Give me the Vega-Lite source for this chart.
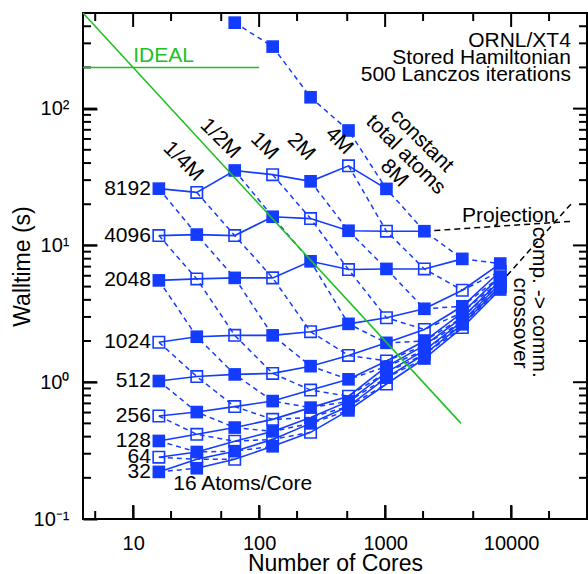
{
"$schema":"https://vega.github.io/schema/vega-lite/v6.json",
"width":504,"height":506,
"autosize":{"type":"none"},
"padding":{"left":83,"top":13,"right":1,"bottom":55},
"config":{"font":"Liberation Sans","view":{"stroke":"black","strokeWidth":2,"fill":"transparent"},
 "axis":{"labelFontSize":20,"labelColor":"black","labelFont":"Liberation Sans","titleFont":"Liberation Sans","titleFontSize":23,"titleFontWeight":"normal","titleColor":"black","tickColor":"black","tickWidth":2,"ticks":true,"domain":false,"grid":false,"labelOverlap":false,"labelFlush":false,"labelPadding":14}},
"datasets":{"pts":[
{"cores":16,"apc":8192,"time":26.0,"tot":17,"fill":"filled"},
{"cores":32,"apc":8192,"time":24.4,"tot":18,"fill":"open"},
{"cores":64,"apc":8192,"time":35.3,"tot":19,"fill":"filled"},
{"cores":128,"apc":8192,"time":32.9,"tot":20,"fill":"open"},
{"cores":256,"apc":8192,"time":29.4,"tot":21,"fill":"filled"},
{"cores":512,"apc":8192,"time":38.2,"tot":22,"fill":"open"},
{"cores":1024,"apc":8192,"time":25.9,"tot":23,"fill":"filled"},
{"cores":16,"apc":4096,"time":11.8,"tot":16,"fill":"open"},
{"cores":32,"apc":4096,"time":12.0,"tot":17,"fill":"filled"},
{"cores":64,"apc":4096,"time":11.8,"tot":18,"fill":"open"},
{"cores":128,"apc":4096,"time":16.2,"tot":19,"fill":"filled"},
{"cores":256,"apc":4096,"time":15.7,"tot":20,"fill":"open"},
{"cores":512,"apc":4096,"time":12.8,"tot":21,"fill":"filled"},
{"cores":1024,"apc":4096,"time":12.7,"tot":22,"fill":"open"},
{"cores":2048,"apc":4096,"time":12.7,"tot":23,"fill":"filled"},
{"cores":16,"apc":2048,"time":5.55,"tot":15,"fill":"filled"},
{"cores":32,"apc":2048,"time":5.69,"tot":16,"fill":"open"},
{"cores":64,"apc":2048,"time":5.79,"tot":17,"fill":"filled"},
{"cores":128,"apc":2048,"time":5.79,"tot":18,"fill":"open"},
{"cores":256,"apc":2048,"time":7.65,"tot":19,"fill":"filled"},
{"cores":512,"apc":2048,"time":6.66,"tot":20,"fill":"open"},
{"cores":1024,"apc":2048,"time":6.73,"tot":21,"fill":"filled"},
{"cores":2048,"apc":2048,"time":6.73,"tot":22,"fill":"open"},
{"cores":4096,"apc":2048,"time":7.97,"tot":23,"fill":"filled"},
{"cores":16,"apc":1024,"time":1.96,"tot":14,"fill":"open"},
{"cores":32,"apc":1024,"time":2.15,"tot":15,"fill":"filled"},
{"cores":64,"apc":1024,"time":2.20,"tot":16,"fill":"open"},
{"cores":128,"apc":1024,"time":2.20,"tot":17,"fill":"filled"},
{"cores":256,"apc":1024,"time":2.34,"tot":18,"fill":"open"},
{"cores":512,"apc":1024,"time":2.67,"tot":19,"fill":"filled"},
{"cores":1024,"apc":1024,"time":2.96,"tot":20,"fill":"open"},
{"cores":2048,"apc":1024,"time":3.44,"tot":21,"fill":"filled"},
{"cores":4096,"apc":1024,"time":4.70,"tot":22,"fill":"open"},
{"cores":8192,"apc":1024,"time":7.37,"tot":23,"fill":"filled"},
{"cores":16,"apc":512,"time":1.02,"tot":13,"fill":"filled"},
{"cores":32,"apc":512,"time":1.10,"tot":14,"fill":"open"},
{"cores":64,"apc":512,"time":1.14,"tot":15,"fill":"filled"},
{"cores":128,"apc":512,"time":1.16,"tot":16,"fill":"open"},
{"cores":256,"apc":512,"time":1.31,"tot":17,"fill":"filled"},
{"cores":512,"apc":512,"time":1.57,"tot":18,"fill":"open"},
{"cores":1024,"apc":512,"time":1.94,"tot":19,"fill":"filled"},
{"cores":2048,"apc":512,"time":2.43,"tot":20,"fill":"open"},
{"cores":4096,"apc":512,"time":3.59,"tot":21,"fill":"filled"},
{"cores":8192,"apc":512,"time":6.47,"tot":22,"fill":"open"},
{"cores":16,"apc":256,"time":0.566,"tot":12,"fill":"open"},
{"cores":32,"apc":256,"time":0.605,"tot":13,"fill":"filled"},
{"cores":64,"apc":256,"time":0.663,"tot":14,"fill":"open"},
{"cores":128,"apc":256,"time":0.728,"tot":15,"fill":"filled"},
{"cores":256,"apc":256,"time":0.876,"tot":16,"fill":"open"},
{"cores":512,"apc":256,"time":1.05,"tot":17,"fill":"filled"},
{"cores":1024,"apc":256,"time":1.43,"tot":18,"fill":"open"},
{"cores":2048,"apc":256,"time":2.0,"tot":19,"fill":"filled"},
{"cores":4096,"apc":256,"time":3.23,"tot":20,"fill":"open"},
{"cores":8192,"apc":256,"time":5.92,"tot":21,"fill":"filled"},
{"cores":16,"apc":128,"time":0.372,"tot":11,"fill":"filled"},
{"cores":32,"apc":128,"time":0.416,"tot":12,"fill":"open"},
{"cores":64,"apc":128,"time":0.466,"tot":13,"fill":"filled"},
{"cores":128,"apc":128,"time":0.535,"tot":14,"fill":"open"},
{"cores":256,"apc":128,"time":0.652,"tot":15,"fill":"filled"},
{"cores":512,"apc":128,"time":0.79,"tot":16,"fill":"open"},
{"cores":1024,"apc":128,"time":1.30,"tot":17,"fill":"filled"},
{"cores":2048,"apc":128,"time":1.86,"tot":18,"fill":"open"},
{"cores":4096,"apc":128,"time":2.97,"tot":19,"fill":"filled"},
{"cores":8192,"apc":128,"time":5.53,"tot":20,"fill":"open"},
{"cores":16,"apc":64,"time":0.283,"tot":10,"fill":"open"},
{"cores":32,"apc":64,"time":0.309,"tot":11,"fill":"filled"},
{"cores":64,"apc":64,"time":0.370,"tot":12,"fill":"open"},
{"cores":128,"apc":64,"time":0.437,"tot":13,"fill":"filled"},
{"cores":256,"apc":64,"time":0.553,"tot":14,"fill":"open"},
{"cores":512,"apc":64,"time":0.724,"tot":15,"fill":"filled"},
{"cores":1024,"apc":64,"time":1.18,"tot":16,"fill":"open"},
{"cores":2048,"apc":64,"time":1.71,"tot":17,"fill":"filled"},
{"cores":4096,"apc":64,"time":2.78,"tot":18,"fill":"open"},
{"cores":8192,"apc":64,"time":5.27,"tot":19,"fill":"filled"},
{"cores":16,"apc":32,"time":0.221,"tot":9,"fill":"filled"},
{"cores":32,"apc":32,"time":0.273,"tot":10,"fill":"open"},
{"cores":64,"apc":32,"time":0.313,"tot":11,"fill":"filled"},
{"cores":128,"apc":32,"time":0.382,"tot":12,"fill":"open"},
{"cores":256,"apc":32,"time":0.50,"tot":13,"fill":"filled"},
{"cores":512,"apc":32,"time":0.666,"tot":14,"fill":"open"},
{"cores":1024,"apc":32,"time":1.08,"tot":15,"fill":"filled"},
{"cores":2048,"apc":32,"time":1.60,"tot":16,"fill":"open"},
{"cores":4096,"apc":32,"time":2.65,"tot":17,"fill":"filled"},
{"cores":8192,"apc":32,"time":5.0,"tot":18,"fill":"open"},
{"cores":32,"apc":16,"time":0.235,"tot":9,"fill":"filled"},
{"cores":64,"apc":16,"time":0.273,"tot":10,"fill":"open"},
{"cores":128,"apc":16,"time":0.340,"tot":11,"fill":"filled"},
{"cores":256,"apc":16,"time":0.43,"tot":12,"fill":"open"},
{"cores":512,"apc":16,"time":0.622,"tot":13,"fill":"filled"},
{"cores":1024,"apc":16,"time":0.97,"tot":14,"fill":"open"},
{"cores":2048,"apc":16,"time":1.49,"tot":15,"fill":"filled"},
{"cores":4096,"apc":16,"time":2.51,"tot":16,"fill":"open"},
{"cores":8192,"apc":16,"time":4.76,"tot":17,"fill":"filled"},
{"cores":64,"apc":131072,"time":425,"tot":23,"fill":"filled"},
{"cores":128,"apc":65536,"time":284,"tot":23,"fill":"filled"},
{"cores":256,"apc":32768,"time":121,"tot":23,"fill":"filled"},
{"cores":512,"apc":16384,"time":69.2,"tot":23,"fill":"filled"}
]},
"resolve":{"axis":{"x":"independent","y":"independent"}},
"encoding":{
 "x":{"field":"cores","type":"quantitative","scale":{"type":"log","domain":[4,40000],"nice":false},"axis":null},
 "y":{"field":"time","type":"quantitative","scale":{"type":"log","domain":[0.1,500],"nice":false},"axis":null}
},
"layer":[
{"data":{"name":"pts"},
 "mark":{"type":"line","color":"#143cff","strokeWidth":1.5,"strokeDash":[5,4]},
 "encoding":{
  "x":{"field":"cores","type":"quantitative","scale":{"type":"log","domain":[4,40000],"nice":false},
   "axis":{"orient":"bottom","zindex":2,"offset":-14,"tickSize":14,"title":"Number of Cores","titleY":65,"titleBaseline":"alphabetic",
    "values":[10,100,1000,10000],
    "labelExpr":"datum.value == 10 ? '10' : datum.value == 100 ? '100' : datum.value == 1000 ? '1000' : '10000'"}},
  "y":{"field":"time","type":"quantitative","scale":{"type":"log","domain":[0.1,500],"nice":false},
   "axis":{"orient":"left","zindex":2,"offset":-14,"tickSize":14,"title":"Walltime (s)","titleX":-68,"titleBaseline":"alphabetic",
    "values":[0.1,1,10,100],
    "labelExpr":"datum.value == 100 ? '10²' : datum.value == 10 ? '10¹' : datum.value == 1 ? '10⁰' : '10⁻¹'"}},
  "detail":{"field":"tot","type":"nominal"},
  "order":{"field":"cores","type":"quantitative"}}},
{"data":{"name":"pts"},
 "mark":{"type":"line","color":"#143cff","strokeWidth":1.6},
 "encoding":{"detail":{"field":"apc","type":"nominal"},"order":{"field":"cores","type":"quantitative"}}},
{"data":{"values":[
 {"cores":2048,"time":12.7,"k":"a"},{"cores":30500,"time":15.0,"k":"a"},
 {"cores":8192,"time":5.3,"k":"b"},{"cores":30500,"time":20.5,"k":"b"}]},
 "mark":{"type":"line","color":"black","strokeWidth":1.5,"strokeDash":[6,4]},
 "encoding":{"detail":{"field":"k","type":"nominal"}}},
{"data":{"name":"pts"},
 "transform":[{"filter":"datum.fill == 'filled'"}],
 "mark":{"type":"square","size":160,"color":"#143cff","opacity":1}},
{"data":{"name":"pts"},
 "transform":[{"filter":"datum.fill == 'open'"}],
 "mark":{"type":"point","shape":"square","size":130,"color":"#143cff","strokeWidth":1.6,"opacity":1,"filled":false}},
{"data":{"values":[{"cores":10,"time":0.1},{"cores":100,"time":0.1},{"cores":1000,"time":0.1},{"cores":10000,"time":0.1}]},
 "mark":{"type":"tick","orient":"vertical","size":14,"thickness":2,"color":"black","opacity":1,"yOffset":-7}},
{"data":{"values":[{"cores":10,"time":500},{"cores":100,"time":500},{"cores":1000,"time":500},{"cores":10000,"time":500}]},
 "mark":{"type":"tick","orient":"vertical","size":14,"thickness":2,"color":"black","opacity":1,"yOffset":7}},
{"data":{"values":[{"cores":5,"time":0.1},{"cores":20,"time":0.1},{"cores":50,"time":0.1},{"cores":200,"time":0.1},{"cores":500,"time":0.1},{"cores":2000,"time":0.1},{"cores":5000,"time":0.1},{"cores":20000,"time":0.1}]},
 "mark":{"type":"tick","orient":"vertical","size":8,"thickness":2,"color":"black","opacity":1,"yOffset":-4}},
{"data":{"values":[{"cores":5,"time":500},{"cores":20,"time":500},{"cores":50,"time":500},{"cores":200,"time":500},{"cores":500,"time":500},{"cores":2000,"time":500},{"cores":5000,"time":500},{"cores":20000,"time":500}]},
 "mark":{"type":"tick","orient":"vertical","size":8,"thickness":2,"color":"black","opacity":1,"yOffset":4}},
{"data":{"values":[{"cores":4,"time":1},{"cores":4,"time":10},{"cores":4,"time":100}]},
 "mark":{"type":"tick","orient":"horizontal","size":14,"thickness":2,"color":"black","opacity":1,"xOffset":7}},
{"data":{"values":[{"cores":40000,"time":1},{"cores":40000,"time":10},{"cores":40000,"time":100}]},
 "mark":{"type":"tick","orient":"horizontal","size":14,"thickness":2,"color":"black","opacity":1,"xOffset":-7}},
{"data":{"values":[{"cores":4,"time":0.2},{"cores":4,"time":0.3},{"cores":4,"time":0.4},{"cores":4,"time":0.5},{"cores":4,"time":0.6},{"cores":4,"time":0.7},{"cores":4,"time":0.8},{"cores":4,"time":0.9},{"cores":4,"time":2},{"cores":4,"time":3},{"cores":4,"time":4},{"cores":4,"time":5},{"cores":4,"time":6},{"cores":4,"time":7},{"cores":4,"time":8},{"cores":4,"time":9},{"cores":4,"time":20},{"cores":4,"time":30},{"cores":4,"time":40},{"cores":4,"time":50},{"cores":4,"time":60},{"cores":4,"time":70},{"cores":4,"time":80},{"cores":4,"time":90},{"cores":4,"time":200},{"cores":4,"time":300},{"cores":4,"time":400}]},
 "mark":{"type":"tick","orient":"horizontal","size":8,"thickness":2,"color":"black","opacity":1,"xOffset":4}},
{"data":{"values":[{"cores":40000,"time":0.2},{"cores":40000,"time":0.3},{"cores":40000,"time":0.4},{"cores":40000,"time":0.5},{"cores":40000,"time":0.6},{"cores":40000,"time":0.7},{"cores":40000,"time":0.8},{"cores":40000,"time":0.9},{"cores":40000,"time":2},{"cores":40000,"time":3},{"cores":40000,"time":4},{"cores":40000,"time":5},{"cores":40000,"time":6},{"cores":40000,"time":7},{"cores":40000,"time":8},{"cores":40000,"time":9},{"cores":40000,"time":20},{"cores":40000,"time":30},{"cores":40000,"time":40},{"cores":40000,"time":50},{"cores":40000,"time":60},{"cores":40000,"time":70},{"cores":40000,"time":80},{"cores":40000,"time":90},{"cores":40000,"time":200},{"cores":40000,"time":300},{"cores":40000,"time":400}]},
 "mark":{"type":"tick","orient":"horizontal","size":8,"thickness":2,"color":"black","opacity":1,"xOffset":-4}},
{"data":{"name":"pts"},
 "transform":[{"filter":"datum.cores == 16"}],
 "mark":{"type":"text","align":"right","baseline":"middle","dx":-8,"fontSize":21,"color":"black"},
 "encoding":{"text":{"field":"apc","type":"nominal"}}},
{"data":{"values":[
 {"cores":24.9,"time":41.1,"txt":"1/4M"},
 {"cores":49,"time":60.4,"txt":"1/2M"},
 {"cores":110,"time":53.2,"txt":"1M"},
 {"cores":215,"time":52.6,"txt":"2M"},
 {"cores":431,"time":58.2,"txt":"4M"},
 {"cores":1950,"time":58.2,"txt":"constant"},
 {"cores":1455,"time":46.0,"txt":"total atoms"},
 {"cores":1178,"time":33.7,"txt":"8M"}]},
 "mark":{"type":"text","angle":45,"align":"center","baseline":"middle","fontSize":21,"color":"black"},
 "encoding":{"text":{"field":"txt","type":"nominal"}}},
{"data":{"values":[
 {"cores":29800,"time":284,"txt":"ORNL/XT4"},
 {"cores":29800,"time":212,"txt":"Stored Hamiltonian"},
 {"cores":29800,"time":160,"txt":"500 Lanczos iterations"}]},
 "mark":{"type":"text","align":"right","baseline":"alphabetic","fontSize":21,"color":"black"},
 "encoding":{"text":{"field":"txt","type":"nominal"}}},
{"data":{"values":[
 {"cores":4080,"time":14.9,"txt":"Projection"},
 {"cores":20.8,"time":0.162,"txt":"16 Atoms/Core"}]},
 "mark":{"type":"text","align":"left","baseline":"alphabetic","fontSize":21,"color":"black"},
 "encoding":{"text":{"field":"txt","type":"nominal"}}},
{"data":{"values":[
 {"cores":16680,"time":13.7,"txt":"comp. -> comm."},
 {"cores":11790,"time":5.82,"txt":"crossover"}]},
 "mark":{"type":"text","angle":90,"align":"left","baseline":"middle","fontSize":21,"color":"black"},
 "encoding":{"text":{"field":"txt","type":"nominal"}}},
{"data":{"values":[{"cores":10,"time":220,"txt":"IDEAL"}]},
 "mark":{"type":"text","align":"left","baseline":"alphabetic","fontSize":21,"color":"#22c022"},
 "encoding":{"text":{"field":"txt","type":"nominal"}}},
{"data":{"values":[
 {"cores":4,"time":500,"k":"d"},{"cores":4000,"time":0.5,"k":"d"},
 {"cores":4,"time":200,"k":"h"},{"cores":100,"time":200,"k":"h"}]},
 "mark":{"type":"line","color":"#22c022","strokeWidth":1.6},
 "encoding":{"detail":{"field":"k","type":"nominal"}}}
]
}
